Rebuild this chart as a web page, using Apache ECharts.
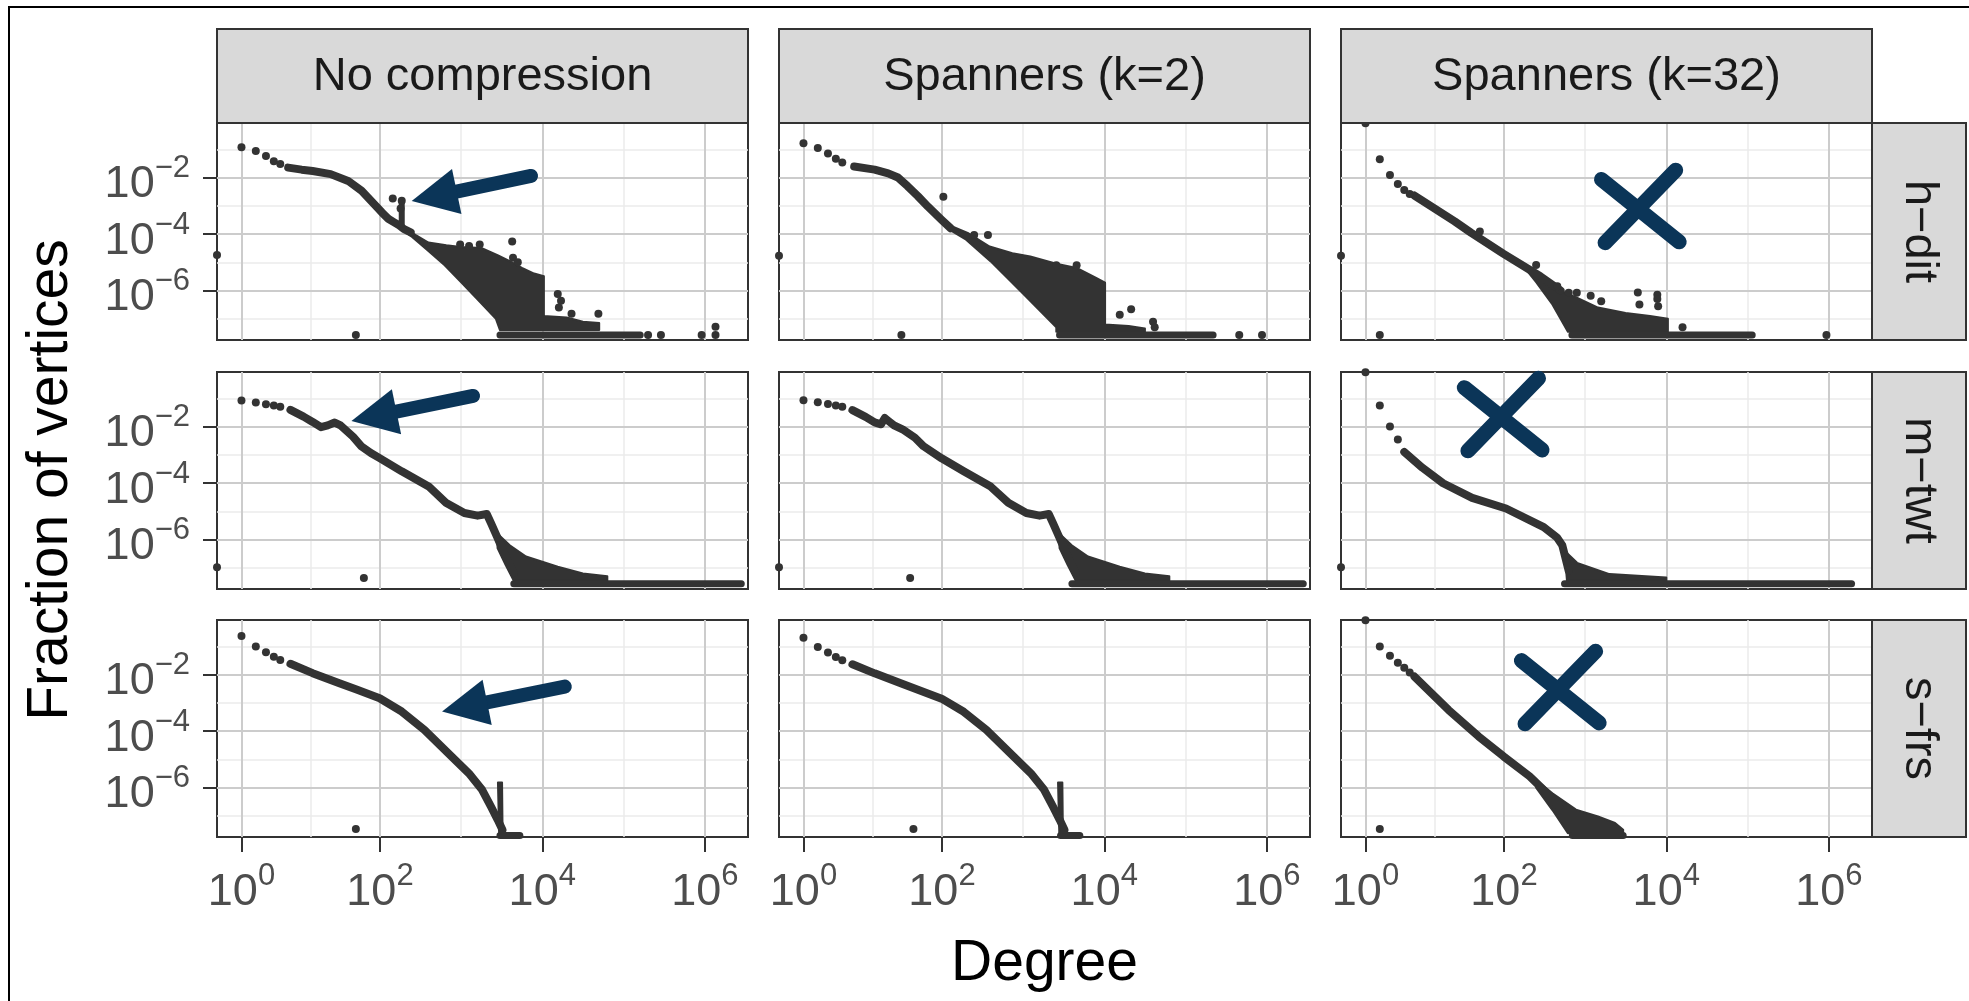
<!DOCTYPE html>
<html>
<head>
<meta charset="utf-8">
<script src="https://cdn.jsdelivr.net/npm/echarts@6/dist/echarts.min.js"></script>
<style>
  html, body { margin: 0; padding: 0; background: #ffffff; }
  #chart { width: 1969px; height: 1001px; }
</style>
</head>
<body>
<div id="chart"></div>
<script>
// Degree distributions per graph (rows) and compression scheme (columns).
// Every point is [degree, fraction of vertices].

const colLabels = ['No compression', 'Spanners (k=2)', 'Spanners (k=32)'];
const rowLabels = ['h\u2212dit', 'm\u2212twt', 's\u2212frs'];
const xTickExponents = [0, 2, 4, 6];
const yTickExponents = [-6, -4, -2];
const yMinorExponents = [-7, -5, -3, -1];

// ---- h-dit ----
const hditNoneDots = [[0, 1.8e-5], [1, 0.117], [2, 0.087], [3, 0.0575], [4, 0.038], [5, 0.030], [50, 2.7e-8],
  [144, 1.8e-3], [186, 1.5e-3], [180, 8e-4], [976, 4.3e-5], [1258, 3.8e-5], [1700, 4.3e-5], [4265, 5.4e-5],
  [4365, 1.45e-5], [5000, 1e-5], [15500, 7.6e-7], [17000, 4.4e-7], [16000, 2.5e-7], [22900, 1.5e-7],
  [49000, 1.5e-7], [200000, 2.7e-8], [288000, 2.7e-8], [912000, 2.7e-8], [1350000, 2.7e-8], [1350000, 5.2e-8]];
const hditNoneCurve = [[6.5, 0.0224], [10, 0.019], [14, 0.017], [24, 0.0132], [40, 7.6e-3], [59, 3.4e-3],
  [81, 1.32e-3], [106, 5.75e-4], [128, 3.4e-4], [150, 2.6e-4], [175, 2.0e-4], [199, 1.48e-4], [240, 1.15e-4]];
const hditNoneSpike = [[186, 2.2e-4], [186, 1.3e-3]];
const hditNoneCloud = [[190, 1.78e-4], [281, 8.9e-5], [397, 5e-5], [660, 4e-5], [999, 3.5e-5], [1777, 3.2e-5],
  [2817, 1.8e-5], [3980, 1.1e-5], [5622, 6.3e-6], [7942, 4e-6], [10470, 3.2e-6], [10470, 1.26e-7],
  [19952, 1.12e-7], [31622, 7.9e-8], [50118, 7.1e-8], [50118, 4e-8], [3019, 4e-8], [2690, 1e-7],
  [1584, 5e-7], [999, 2e-6], [630, 7.9e-6], [397, 2.5e-5], [250, 7.9e-5], [190, 1.41e-4]];
const hditNoneFloor = [[3019, 2.7e-8], [160000, 2.7e-8]];

const hditK2Dots = [[0, 1.7e-5], [1, 0.162], [2, 0.11], [3, 0.071], [4, 0.046], [5, 0.034], [31, 2.7e-8],
  [104, 2.1e-3], [250, 9.3e-5], [370, 9.3e-5], [2570, 7.9e-6], [4570, 7.9e-6], [15500, 1.4e-7],
  [21400, 2.2e-7], [39800, 7.9e-8], [41700, 5e-8], [457000, 2.7e-8], [871000, 2.7e-8]];
const hditK2Curve = [[7.4, 0.0245], [14, 0.019], [21, 0.0141], [28, 0.01], [37, 5e-3], [50, 2.2e-3],
  [67, 9.3e-4], [99, 3.2e-4], [128, 1.6e-4]];
const hditK2Cloud = [[125, 2e-4], [208, 1.1e-4], [388, 3.6e-5], [740, 2.1e-5], [1230, 1.6e-5], [2570, 8.9e-6],
  [4570, 6.3e-6], [7942, 2.8e-6], [10230, 1.9e-6], [10230, 6.3e-8], [19952, 5.6e-8], [31622, 4.5e-8],
  [31622, 3.5e-8], [2570, 3.5e-8], [2570, 5e-8], [999, 7.9e-7], [397, 1.1e-5], [199, 6.3e-5], [125, 1.41e-4]];
const hditK2Floor = [[2817, 2.7e-8], [218000, 2.7e-8]];

const hditK32Dots = [[0, 1.7e-5], [1, 0.84], [2, 0.0447], [3, 0.0123], [4, 5.9e-3], [5, 3.6e-3], [6, 2.6e-3],
  [2, 2.7e-8], [50, 1.23e-4], [250, 8.1e-6], [456, 1.41e-6], [630, 8.3e-7], [793, 8.3e-7], [1175, 6.6e-7],
  [1584, 4.2e-7], [4466, 8.5e-7], [7760, 7.1e-7], [7760, 5e-7], [4676, 3.2e-7], [7942, 2.8e-7],
  [15848, 5e-8], [933000, 2.7e-8]];
const hditK32Curve = [[7, 2.3e-3], [24, 2.8e-4], [39, 1.1e-4], [99, 2e-5], [281, 3.2e-6], [500, 1e-6]];
const hditK32Cloud = [[199, 6.3e-6], [315, 2.2e-6], [500, 1e-6], [793, 5.6e-7], [1445, 2.5e-7], [3161, 1.6e-7],
  [6309, 1.26e-7], [10470, 1e-7], [10470, 3.5e-8], [616, 3.5e-8], [397, 3.2e-7], [250, 2e-6], [199, 4.5e-6]];
const hditK32Floor = [[690, 2.7e-8], [114000, 2.7e-8]];

// ---- m-twt ----
const mtwtNoneDots = [[0, 1.05e-7], [1, 0.083], [2, 0.071], [3, 0.062], [4, 0.056], [5, 0.05], [63, 4.4e-8]];
const mtwtNoneCurve = [[7, 0.039], [10.6, 0.0224], [14, 0.0145], [18, 9.5e-3], [22, 0.011], [27, 0.0138],
  [32, 0.011], [46, 4.4e-3], [59, 1.95e-3], [77, 1.15e-3], [99, 7.6e-4], [186, 2.6e-4], [400, 7.6e-5],
  [660, 1.95e-5], [1100, 8.7e-6], [1600, 7e-6], [2080, 8e-6], [2340, 3.8e-6], [2800, 1.2e-6],
  [3400, 3.3e-7], [4466, 6.6e-8]];
const mtwtNoneCloud = [[2817, 1.6e-6], [3980, 6.3e-7], [6309, 2.5e-7], [15500, 1.1e-7], [31622, 6.3e-8],
  [63095, 5e-8], [63095, 3.5e-8], [4466, 3.5e-8], [3548, 1.26e-7], [2817, 5e-7]];
const mtwtNoneFloor = [[4466, 2.75e-8], [2800000, 2.75e-8]];

const mtwtK2Dots = [[0, 1.05e-7], [1, 0.085], [2, 0.072], [3, 0.063], [4, 0.056], [5, 0.05], [40, 4.4e-8]];
const mtwtK2Curve = [[7, 0.038], [10.6, 0.022], [14, 0.014], [17, 0.012], [19, 0.02], [21, 0.016], [25, 0.011],
  [32, 8e-3], [46, 4e-3], [59, 2e-3], [99, 7.5e-4], [186, 2.6e-4], [400, 7.5e-5], [660, 2e-5], [1100, 8.7e-6],
  [1600, 7e-6], [2080, 8e-6], [2340, 3.8e-6], [2800, 1.2e-6], [3400, 3.3e-7], [4466, 6.6e-8]];
const mtwtK2Cloud = [[2817, 1.6e-6], [3980, 6.3e-7], [6309, 2.5e-7], [15500, 1.1e-7], [31622, 6.3e-8],
  [63095, 5e-8], [63095, 3.5e-8], [4466, 3.5e-8], [3548, 1.26e-7], [2817, 5e-7]];
const mtwtK2Floor = [[4000, 2.75e-8], [2800000, 2.75e-8]];

const mtwtK32Dots = [[0, 1.05e-7], [1, 0.84], [2, 0.055], [3, 0.01], [4, 3.5e-3]];
const mtwtK32Curve = [[5, 1.26e-3], [9, 3.5e-4], [17, 9.8e-5], [40, 3e-5], [106, 1.26e-5], [310, 2.75e-6],
  [450, 1.2e-6], [525, 6.3e-7], [630, 7.9e-8]];
const mtwtK32Cloud = [[560, 4e-7], [800, 1.5e-7], [2000, 6e-8], [10000, 4.5e-8], [10000, 3.5e-8], [600, 3.5e-8]];
const mtwtK32Floor = [[560, 2.75e-8], [1900000, 2.75e-8]];

// ---- s-frs ----
const sfrsNoneDots = [[1, 0.232], [2, 0.098], [3, 0.062], [4, 0.043], [5, 0.033], [50, 3.4e-8]];
const sfrsNoneCurve = [[7, 0.024], [14, 0.0112], [31, 4.9e-3], [52, 2.9e-3], [99, 1.45e-3], [186, 4.9e-4],
  [354, 1.1e-4], [660, 1.9e-5], [1250, 3.2e-6], [1820, 8.3e-7], [2340, 2.1e-7], [2830, 7.2e-8], [3236, 3.2e-8]];
const sfrsNoneCloud = [[2850, 1.5e-6], [3200, 1.5e-6], [3250, 2.2e-8], [2950, 2.2e-8]];
const sfrsNoneFloor = [[3019, 2e-8], [5300, 2e-8]];

const sfrsK2Dots = [[1, 0.2], [2, 0.095], [3, 0.06], [4, 0.042], [5, 0.032], [44, 3.4e-8]];
const sfrsK2Curve = [[7, 0.023], [14, 0.011], [31, 4.8e-3], [52, 2.8e-3], [99, 1.4e-3], [186, 4.8e-4],
  [354, 1.1e-4], [660, 1.9e-5], [1250, 3.2e-6], [1820, 8.3e-7], [2340, 2.1e-7], [2830, 7.2e-8], [3236, 3.2e-8]];
const sfrsK2Cloud = [[2700, 1.5e-6], [3050, 1.5e-6], [3100, 2.2e-8], [2800, 2.2e-8]];
const sfrsK2Floor = [[2900, 2e-8], [5000, 2e-8]];

const sfrsK32Dots = [[1, 0.84], [2, 0.098], [3, 0.046], [4, 0.026], [5, 0.0174], [6, 0.0117], [2, 3.4e-8]];
const sfrsK32Curve = [[7, 8.5e-3], [20, 5.6e-4], [48, 6.5e-5], [99, 1.26e-5], [208, 2.5e-6], [338, 6.5e-7],
  [478, 2.1e-7]];
const sfrsK32Cloud = [[250, 1.8e-6], [397, 6.3e-7], [775, 1.66e-7], [1445, 9.5e-8], [2343, 5.6e-8],
  [2950, 3.2e-8], [2950, 2.4e-8], [616, 2.4e-8], [397, 1.6e-7], [250, 1e-6]];
const sfrsK32Floor = [[700, 2e-8], [2950, 2e-8]];

// Callouts: arrows from tail to tip, and crosses, anchored in [degree, fraction]
const arrowNotes = [
  { panel: 0, from: [7277, 0.0114], to: [247, 1.49e-3] },
  { panel: 3, from: [1408, 0.121], to: [44, 0.0158] },
  { panel: 6, from: [18920, 3.74e-3], to: [585, 4.9e-4] }
];
const crossNotes = [
  { panel: 2, at: [4763, 8.5e-4] },
  { panel: 5, at: [97, 0.0237] },
  { panel: 8, at: [493, 3.1e-3] }
];

const panelData = [
  { dots: hditNoneDots, curve: hditNoneCurve, cloud: hditNoneCloud, floor: hditNoneFloor, spike: hditNoneSpike },
  { dots: hditK2Dots, curve: hditK2Curve, cloud: hditK2Cloud, floor: hditK2Floor },
  { dots: hditK32Dots, curve: hditK32Curve, cloud: hditK32Cloud, floor: hditK32Floor },
  { dots: mtwtNoneDots, curve: mtwtNoneCurve, cloud: mtwtNoneCloud, floor: mtwtNoneFloor },
  { dots: mtwtK2Dots, curve: mtwtK2Curve, cloud: mtwtK2Cloud, floor: mtwtK2Floor },
  { dots: mtwtK32Dots, curve: mtwtK32Curve, cloud: mtwtK32Cloud, floor: mtwtK32Floor },
  { dots: sfrsNoneDots, curve: sfrsNoneCurve, cloud: sfrsNoneCloud, floor: sfrsNoneFloor },
  { dots: sfrsK2Dots, curve: sfrsK2Curve, cloud: sfrsK2Cloud, floor: sfrsK2Floor },
  { dots: sfrsK32Dots, curve: sfrsK32Curve, cloud: sfrsK32Cloud, floor: sfrsK32Floor }
];

// ---------- layout and style ----------
const FONT = '"Liberation Sans", Arial, Helvetica, sans-serif';
const INK = '#333333';
const NAVY = '#0B3558';
const colLeft = [217, 779, 1341];
const rowTop = [123, 372, 620];
const PW = 531, PH = 217;
const X_MAX = 6.53;          // pseudo-log degree axis: log10(degree + 1)
const Y_MIN = -7.75, Y_MAX = -0.07;

const tx = d => Math.log10(d + 1);
const ty = f => Math.log10(f);
const pt = p => [tx(p[0]), ty(p[1])];

const xMajor = xTickExponents.map(e => tx(Math.pow(10, e)));
const xMinor = xMajor.slice(1).map((v, i) => (v + xMajor[i]) / 2);

const tickRich = {
  b: { fontSize: 45, lineHeight: 64, color: '#4D4D4D', fontFamily: FONT },
  s: { fontSize: 31, lineHeight: 31, verticalAlign: 'top', color: '#4D4D4D', fontFamily: FONT }
};

function gridLineSeries(g) {
  const minor = { color: '#EBEBEB', width: 1.5, type: 'solid' };
  const major = { color: '#CCCCCC', width: 2, type: 'solid' };
  const lines = []
    .concat(xMinor.map(v => ({ xAxis: v, lineStyle: minor })))
    .concat(yMinorExponents.map(v => ({ yAxis: v, lineStyle: minor })))
    .concat(xMajor.map(v => ({ xAxis: v, lineStyle: major })))
    .concat(yTickExponents.map(v => ({ yAxis: v, lineStyle: major })));
  return {
    type: 'line', xAxisIndex: g, yAxisIndex: g, data: [], silent: true, z: 1,
    markLine: { z: 1, silent: true, symbol: 'none', animation: false, label: { show: false }, data: lines }
  };
}

function polygonSeries(g, pts) {
  const coords = pts.map(pt);
  return {
    type: 'custom', coordinateSystem: 'cartesian2d', xAxisIndex: g, yAxisIndex: g,
    clip: true, silent: true, z: 3, data: [coords[0]], encode: { x: 0, y: 1 },
    renderItem: (params, api) => ({
      type: 'polygon',
      shape: { points: coords.map(c => api.coord(c)) },
      style: { fill: INK, stroke: INK, lineWidth: 2, lineJoin: 'round' }
    })
  };
}

function lineSeries(g, pts, width) {
  return {
    type: 'line', xAxisIndex: g, yAxisIndex: g, data: pts.map(pt), showSymbol: false, silent: true, z: 4,
    lineStyle: { color: INK, width: width, opacity: 1, cap: 'round', join: 'round' }
  };
}

function dotSeries(g, pts) {
  return {
    type: 'scatter', xAxisIndex: g, yAxisIndex: g, data: pts.map(pt), symbolSize: 8, silent: true, z: 5,
    itemStyle: { color: INK, opacity: 1 }
  };
}

function arrowSeries(a) {
  const from = pt(a.from), to = pt(a.to);
  return {
    type: 'custom', coordinateSystem: 'cartesian2d', xAxisIndex: a.panel, yAxisIndex: a.panel,
    clip: false, silent: true, z: 20, data: [to], encode: { x: 0, y: 1 },
    renderItem: (params, api) => {
      const p0 = api.coord(from), p1 = api.coord(to);
      const dx = p1[0] - p0[0], dy = p1[1] - p0[1], len = Math.hypot(dx, dy);
      const ux = dx / len, uy = dy / len, nx = -uy, ny = ux;
      const headLen = 46, headHalf = 23;
      const bx = p1[0] - ux * headLen, by = p1[1] - uy * headLen;
      return {
        type: 'group', children: [
          { type: 'line', shape: { x1: p0[0], y1: p0[1], x2: bx + ux * 4, y2: by + uy * 4 },
            style: { stroke: NAVY, lineWidth: 14, lineCap: 'round' } },
          { type: 'polygon', shape: { points: [[p1[0], p1[1]], [bx + nx * headHalf, by + ny * headHalf], [bx - nx * headHalf, by - ny * headHalf]] },
            style: { fill: NAVY } }
        ]
      };
    }
  };
}

// arm offsets (px) of the cross glyph around its anchor
const crossArms = [[-38.6, -28.3, 39.1, 34], [35.6, -37.6, -35, 34.9]];
function crossSeries(c) {
  const at = pt(c.at);
  return {
    type: 'custom', coordinateSystem: 'cartesian2d', xAxisIndex: c.panel, yAxisIndex: c.panel,
    clip: false, silent: true, z: 20, data: [at], encode: { x: 0, y: 1 },
    renderItem: (params, api) => {
      const p = api.coord(at);
      return {
        type: 'group', children: crossArms.map(a => ({
          type: 'line', shape: { x1: p[0] + a[0], y1: p[1] + a[1], x2: p[0] + a[2], y2: p[1] + a[3] },
          style: { stroke: NAVY, lineWidth: 15, lineCap: 'round' }
        }))
      };
    }
  };
}

const grids = [], xAxes = [], yAxes = [], series = [];
for (let r = 0; r < 3; r++) {
  for (let c = 0; c < 3; c++) {
    const g = r * 3 + c;
    grids.push({ left: colLeft[c], top: rowTop[r], width: PW, height: PH, show: true,
      backgroundColor: '#ffffff', borderColor: INK, borderWidth: 2, containLabel: false });
    xAxes.push({
      type: 'value', gridIndex: g, min: 0, max: X_MAX,
      axisLine: { show: false }, splitLine: { show: false },
      axisTick: { show: r === 2, length: 15, lineStyle: { color: INK, width: 2 }, customValues: xMajor },
      axisLabel: {
        show: r === 2, customValues: xMajor, margin: 24, rich: tickRich,
        formatter: v => {
          const i = xMajor.findIndex(m => Math.abs(m - v) < 1e-6);
          return '{b|10}{s|' + xTickExponents[i] + '}';
        }
      }
    });
    yAxes.push({
      type: 'value', gridIndex: g, min: Y_MIN, max: Y_MAX,
      axisLine: { show: false }, splitLine: { show: false },
      axisTick: { show: c === 0, length: 14, lineStyle: { color: INK, width: 2 }, customValues: yTickExponents },
      axisLabel: {
        show: c === 0, customValues: yTickExponents, margin: 27, padding: [15, 0, 0, 0], rich: tickRich,
        formatter: v => '{b|10}{s|\u2212' + Math.abs(Math.round(v)) + '}'
      }
    });
    const p = panelData[g];
    series.push(gridLineSeries(g));
    series.push(polygonSeries(g, p.cloud));
    series.push(lineSeries(g, p.floor, 7));
    series.push(lineSeries(g, p.curve, 8));
    if (p.spike) series.push(lineSeries(g, p.spike, 6));
    series.push(dotSeries(g, p.dots));
  }
}
arrowNotes.forEach(a => series.push(arrowSeries(a)));
crossNotes.forEach(c => series.push(crossSeries(c)));

// strips, axis titles and the outer frame
const graphics = [
  { type: 'rect', shape: { x: 9, y: 7, width: 2000, height: 1100 }, style: { fill: 'none', stroke: '#000', lineWidth: 2 }, z: 50, silent: true }
];
colLabels.forEach((label, c) => {
  graphics.push({ type: 'rect', shape: { x: colLeft[c], y: 29, width: PW, height: 94 },
    style: { fill: '#D9D9D9', stroke: INK, lineWidth: 2 }, z: 10, silent: true });
  graphics.push({ type: 'text', x: colLeft[c] + PW / 2, y: 77, z: 11, silent: true,
    style: { text: label, fontSize: 47, fontFamily: FONT, fill: '#1A1A1A', align: 'center', verticalAlign: 'middle' } });
});
rowLabels.forEach((label, r) => {
  graphics.push({ type: 'rect', shape: { x: colLeft[2] + PW, y: rowTop[r], width: 94, height: PH },
    style: { fill: '#D9D9D9', stroke: INK, lineWidth: 2 }, z: 10, silent: true });
  graphics.push({ type: 'text', x: colLeft[2] + PW + 47, y: rowTop[r] + PH / 2, rotation: -Math.PI / 2, z: 11, silent: true,
    style: { text: label, fontSize: 47, fontFamily: FONT, fill: '#1A1A1A', align: 'center', verticalAlign: 'middle' } });
});
graphics.push({ type: 'text', x: (colLeft[0] + colLeft[2] + PW) / 2, y: 964, z: 11, silent: true,
  style: { text: 'Degree', fontSize: 57, fontFamily: FONT, fill: '#000000', align: 'center', verticalAlign: 'middle' } });
graphics.push({ type: 'text', x: 51, y: (rowTop[0] + rowTop[2] + PH) / 2, rotation: Math.PI / 2, z: 11, silent: true,
  style: { text: 'Fraction of vertices', fontSize: 57, fontFamily: FONT, fill: '#000000', align: 'center', verticalAlign: 'middle' } });

const chart = echarts.init(document.getElementById('chart'), null, { renderer: 'canvas' });
chart.setOption({
  backgroundColor: '#ffffff',
  animation: false,
  textStyle: { fontFamily: FONT },
  grid: grids,
  xAxis: xAxes,
  yAxis: yAxes,
  series: series,
  graphic: graphics
});
</script>
</body>
</html>
